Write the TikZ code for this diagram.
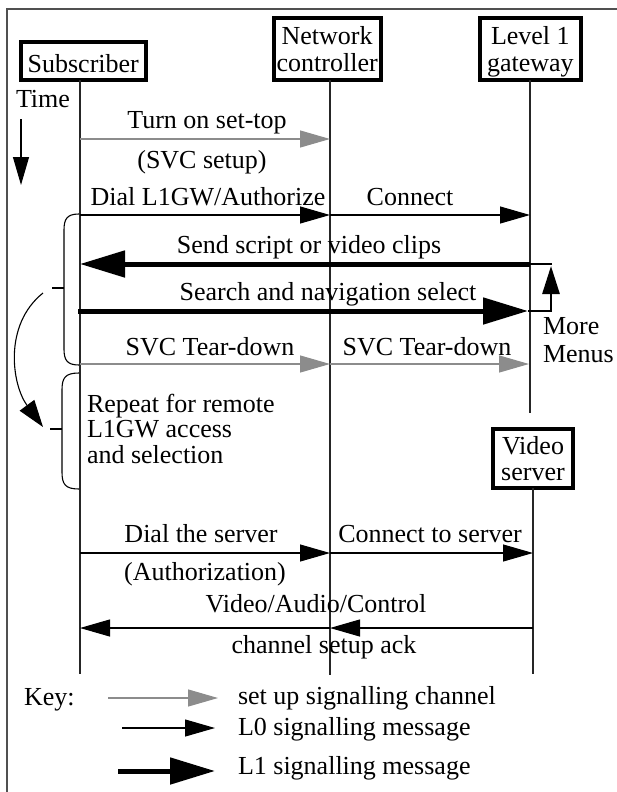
\documentclass[tikz,border=0pt]{standalone}
\usepackage{fontspec}
\setmainfont{Liberation Serif}
\usetikzlibrary{arrows.meta}
\definecolor{sigray}{RGB}{140,140,140}
\definecolor{framegray}{RGB}{80,80,80}
\newcommand\diafont{\fontsize{26bp}{26.5bp}\selectfont}
\begin{document}
\begin{tikzpicture}[x=1bp,y=-1bp,
  every node/.style={font=\diafont, inner sep=0pt, outer sep=0pt},
  actor/.style={draw, line width=4bp, align=center, fill=white},
  life/.style={line width=1.1bp, draw=black!85},
  setupmsg/.style={draw=sigray, line width=1.2bp, -{Triangle[length=30bp,width=17bp]}},
  lzero/.style={line width=1.1bp, -{Triangle[length=30bp,width=17bp]}},
  lone/.style={line width=5bp, -{Triangle[length=45bp,width=26bp]}},
  loopline/.style={line width=2.8bp},
  bracepath/.style={line width=1.1bp},
  lbl/.style={anchor=base},
  lbll/.style={anchor=base west}
]
\useasboundingbox (0,0) rectangle (617,792);
% frame (open at right and bottom)
\draw[framegray, line width=1.6bp] (6.7,792) -- (6.7,9.3) -- (617,9.3);

% actors
\node[actor, minimum width=124.5bp, minimum height=38bp] (sub) at (83.25,61) {\rule{0pt}{23.5bp}Subscriber};
\node[actor, minimum width=107bp, minimum height=62bp] (net) at (327.15,49) {Network\\controller};
\node[actor, minimum width=100.7bp, minimum height=62bp] (lgw) at (530.35,49) {\rule{0pt}{23.4bp}Level 1\\gateway};
\node[actor, minimum width=80bp, minimum height=59bp] (vs) at (533,458.5) {Video\\server};

% lifelines
\coordinate (subE) at (80,674);
\coordinate (netE) at (330,675);
\coordinate (lgwE) at (530,413);
\coordinate (vsE) at (533,674);
\draw[life] (sub.south -| subE) -- (subE);
\draw[life] (net.south -| netE) -- (netE);
\draw[life] (lgw.south -| lgwE) -- (lgwE);
\draw[life] (vs.south -| vsE) -- (vsE);

% time
\node[lbll] (time) at (16,107) {Time};
\coordinate (tA) at (21,119);
\coordinate (tB) at (21,185);
\draw[line width=1.1bp, -{Triangle[length=28bp,width=16bp]}] (tA) -- (tB);

% 1 turn on set-top
\coordinate (s1) at (80,139); \coordinate (n1) at (330,139);
\draw[setupmsg] (s1) -- (n1);
\node[lbl] (m1) at (207,128) {Turn on set-top};
\node[lbl] (m1b) at (202,168) {(SVC setup)};

% 2 dial / connect
\coordinate (s2) at (80,215); \coordinate (n2) at (330,215); \coordinate (g2) at (530,215);
\draw[lzero] (s2) -- (n2);
\draw[lzero] (n2) -- (g2);
\node[lbl] (m2) at (208,205) {Dial L1GW/Authorize};
\node[lbl] (m2b) at (410,205) {Connect};

% 3 send script
\coordinate (c3) at (552,264); \coordinate (g3) at (530,264); \coordinate (s3) at (80,264);
\draw[loopline] (c3) -- (g3);
\draw[lone] (g3) -- (s3);
\node[lbl] (m3) at (309,253) {Send script or video clips};

% 4 search and navigation
\coordinate (s4) at (78,311); \coordinate (g4) at (528,311);
\draw[lone] (s4) -- (g4);
\node[lbl] (m4) at (328,300) {Search and navigation select};

% loop: more menus
\coordinate (loopT) at (551,266);
\draw[loopline, -{Triangle[length=28bp,width=17bp]}] (g4) -| (loopT);
\node[lbll] (mm1) at (543,334) {More};
\node[lbll] (mm2) at (543,362) {Menus};

% 5 SVC tear-down
\coordinate (s5) at (80,364); \coordinate (n5) at (330,364); \coordinate (g5) at (529,364);
\draw[setupmsg] (s5) -- (n5);
\draw[setupmsg] (n5) -- (g5);
\node[lbl] (m5) at (210,355) {SVC Tear-down};
\node[lbl] (m5b) at (427,355) {SVC Tear-down};

% braces
\draw[bracepath] (79,214) .. controls (67,214) and (64,219) .. (64,230) -- (64,349) .. controls (64,360) and (67,365) .. (79,365);
\draw[bracepath] (52,288) -- (64,288);
\draw[bracepath] (79,373) .. controls (65,373) and (62,378) .. (62,390) -- (62,472) .. controls (62,484) and (65,489) .. (79,489);
\draw[bracepath] (50,429) -- (62,429);

% curved repeat arrow
\coordinate (ca) at (43,293); \coordinate (cb) at (43,427);
\draw[line width=1.1bp, -{Triangle[length=27bp,width=18bp]}] (ca) .. controls (3,325) and (12,385) .. (cb);

\node[lbll] (r1) at (87,412) {Repeat for remote};
\node[lbll] (r2) at (87,437) {L1GW access};
\node[lbll] (r3) at (87,463) {and selection};

% 6 dial the server
\coordinate (s6) at (80,553); \coordinate (n6) at (330,553); \coordinate (v6) at (533,553);
\draw[lzero] (s6) -- (n6);
\draw[lzero] (n6) -- (v6);
\node[lbl] (m6) at (201,542) {Dial the server};
\node[lbl] (m6b) at (430,542) {Connect to server};
\node[lbl] (m6c) at (205,580) {(Authorization)};

% 7 video/audio/control
\coordinate (v7) at (533,628); \coordinate (n7) at (330,628); \coordinate (s7) at (80,628);
\draw[lzero] (v7) -- (n7);
\draw[lzero] (n7) -- (s7);
\node[lbl] (m7) at (316,612) {Video/Audio/Control};
\node[lbl] (m7b) at (324,653) {channel setup ack};

% key
\node[lbll] (key) at (24,705) {Key:};
\coordinate (k1a) at (108,698); \coordinate (k1b) at (218,698);
\coordinate (k2a) at (122,728); \coordinate (k2b) at (215,728);
\coordinate (k3a) at (118,771); \coordinate (k3b) at (215,771);
\draw[setupmsg] (k1a) -- (k1b);
\draw[lzero] (k2a) -- (k2b);
\draw[lone] (k3a) -- (k3b);
\node[lbll] (kt1) at (238,704) {set up signalling channel};
\node[lbll] (kt2) at (238,735) {L0 signalling message};
\node[lbll] (kt3) at (238,774) {L1 signalling message};
\end{tikzpicture}
\end{document}
